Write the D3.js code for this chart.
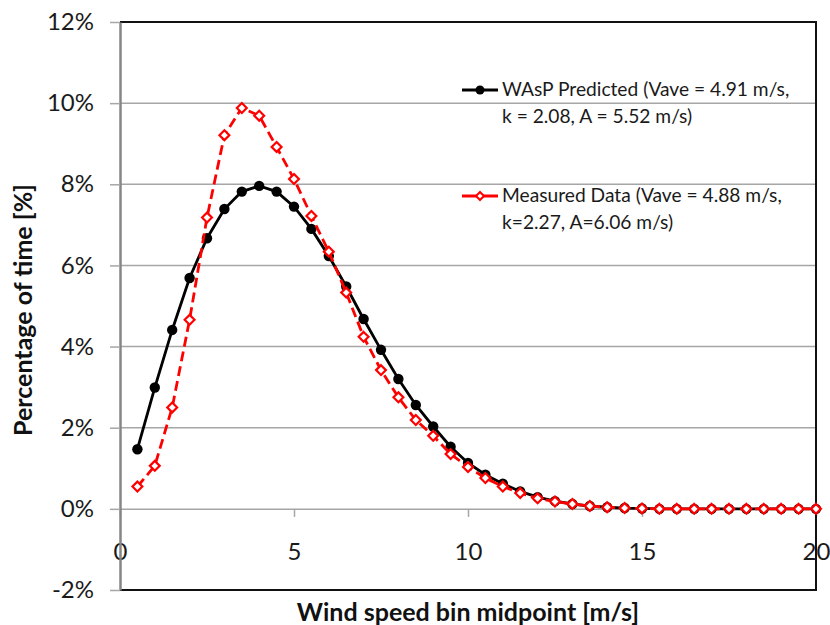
<!DOCTYPE html>
<html>
<head>
<meta charset="utf-8">
<script src="https://cdn.jsdelivr.net/npm/d3@7"></script>
<style>
  body { margin: 0; background: #fff; }
  svg { display: block; font-family: Lato, "Open Sans", sans-serif; }
</style>
</head>
<body>
<div id="chart"></div>
<script>
// wind speed bin midpoints [m/s]
const speeds = [0.5, 1, 1.5, 2, 2.5, 3, 3.5, 4, 4.5, 5, 5.5, 6, 6.5, 7, 7.5, 8, 8.5, 9, 9.5, 10,
  10.5, 11, 11.5, 12, 12.5, 13, 13.5, 14, 14.5, 15, 15.5, 16, 16.5, 17, 17.5, 18, 18.5, 19, 19.5, 20];
// WAsP predicted [%]
const wasp = [1.47, 2.99, 4.41, 5.69, 6.67, 7.39, 7.82, 7.96, 7.82, 7.45, 6.90, 6.23, 5.48, 4.68, 3.92, 3.20,
  2.56, 2.03, 1.53, 1.13, 0.84, 0.62, 0.43, 0.29, 0.19, 0.12, 0.07, 0.04, 0.02, 0.01, 0, 0, 0, 0, 0, 0, 0, 0, 0, 0];
// measured data [%]
const measured = [0.55, 1.06, 2.50, 4.66, 7.18, 9.21, 9.88, 9.69, 8.92, 8.13, 7.22, 6.34, 5.33, 4.24, 3.42, 2.75,
  2.19, 1.80, 1.35, 1.03, 0.76, 0.55, 0.39, 0.26, 0.18, 0.12, 0.07, 0.04, 0.02, 0.01, 0, 0, 0, 0, 0, 0, 0, 0, 0, 0];

const yTicks = [-2, 0, 2, 4, 6, 8, 10, 12];
const xTicks = [0, 5, 10, 15, 20];
const legendLines = [
  ["WAsP Predicted (Vave = 4.91 m/s,", "k = 2.08, A = 5.52 m/s)"],
  ["Measured Data (Vave = 4.88 m/s,", "k=2.27, A=6.06 m/s)"]
];

const W = 830, H = 625;
const margin = { top: 22, right: 14, bottom: 35, left: 120 };

const svg = d3.select("#chart").append("svg")
  .attr("width", W)
  .attr("height", H);

const x = d3.scaleLinear().domain([0, 20]).range([margin.left, W - margin.right]);
const y = d3.scaleLinear().domain([-2, 12]).range([H - margin.bottom, margin.top]);

// grid lines
svg.append("g")
  .selectAll("line")
  .data(yTicks.filter(d => d > 0 && d < 12))
  .enter().append("line")
  .attr("x1", x(0)).attr("x2", x(20))
  .attr("y1", d => y(d)).attr("y2", d => y(d))
  .attr("stroke", "#a6a6a6")
  .attr("stroke-width", 1.5);

// horizontal axis crossing at 0%
const xAxis = svg.append("g")
  .attr("transform", "translate(0," + y(0) + ")")
  .call(d3.axisBottom(x).tickValues(xTicks).tickSize(8).tickSizeOuter(0));
xAxis.select(".domain").attr("stroke", "#a6a6a6").attr("stroke-width", 1.5);
xAxis.selectAll(".tick line").attr("stroke", "#a6a6a6").attr("stroke-width", 1.5);
xAxis.selectAll(".tick text")
  .attr("y", 51).attr("dy", 0)
  .attr("font-size", 24)
  .attr("font-family", "Lato")
  .attr("fill", "#1a1a1a");

// frame: top, right, bottom
svg.append("path")
  .attr("d", "M" + x(0) + "," + y(12) + "H" + x(20) + "V" + y(-2) + "H" + x(0))
  .attr("fill", "none")
  .attr("stroke", "#111")
  .attr("stroke-width", 2);

// vertical axis
const yAxis = svg.append("g")
  .attr("transform", "translate(" + x(0) + ",0)")
  .call(d3.axisLeft(y).tickValues(yTicks).tickSize(10).tickSizeOuter(0).tickPadding(16).tickFormat(d => d + "%"));
yAxis.select(".domain").attr("stroke", "#868686").attr("stroke-width", 2.5);
yAxis.selectAll(".tick line").attr("stroke", "#a6a6a6").attr("stroke-width", 1.5);
yAxis.selectAll(".tick text")
  .attr("font-size", 24)
  .attr("font-family", "Lato")
  .attr("fill", "#1a1a1a");

// axis titles
svg.append("text")
  .attr("x", (x(0) + x(20)) / 2)
  .attr("y", 621)
  .attr("text-anchor", "middle")
  .attr("font-size", 25)
  .attr("font-weight", "bold")
  .attr("fill", "#111")
  .text("Wind speed bin midpoint [m/s]");

svg.append("text")
  .attr("transform", "translate(32," + 310 + ") rotate(-90)")
  .attr("text-anchor", "middle")
  .attr("font-size", 25)
  .attr("font-weight", "bold")
  .attr("fill", "#111")
  .text("Percentage of time [%]");

// series
const line = d3.line()
  .x((d, i) => x(speeds[i]))
  .y(d => y(d));

svg.append("path")
  .datum(wasp)
  .attr("d", line)
  .attr("fill", "none")
  .attr("stroke", "#000")
  .attr("stroke-width", 2.8);

svg.append("g")
  .selectAll("circle")
  .data(wasp)
  .enter().append("circle")
  .attr("cx", (d, i) => x(speeds[i]))
  .attr("cy", d => y(d))
  .attr("r", 5.2)
  .attr("fill", "#000");

svg.append("path")
  .datum(measured)
  .attr("d", line)
  .attr("fill", "none")
  .attr("stroke", "#ff0000")
  .attr("stroke-width", 2.8)
  .attr("stroke-dasharray", "10,5");

const diamond = d3.symbol().type(d3.symbolDiamond2).size(62);
svg.append("g")
  .selectAll("path")
  .data(measured)
  .enter().append("path")
  .attr("d", diamond)
  .attr("transform", (d, i) => "translate(" + x(speeds[i]) + "," + y(d) + ")")
  .attr("fill", "#fff")
  .attr("stroke", "#ff0000")
  .attr("stroke-width", 2.2);

// legend
const legend = svg.append("g");
const legendY = [90, 196];
const legendColors = ["#000", "#ff0000"];

legendLines.forEach((lines, k) => {
  const g = legend.append("g").attr("transform", "translate(0," + legendY[k] + ")");
  g.append("line")
    .attr("x1", 462).attr("x2", 498)
    .attr("stroke", legendColors[k])
    .attr("stroke-width", 2.8);
  if (k === 0) {
    g.append("circle").attr("cx", 480).attr("r", 4.5).attr("fill", "#000");
  } else {
    g.append("path")
      .attr("d", d3.symbol().type(d3.symbolDiamond2).size(40))
      .attr("transform", "translate(480,0)")
      .attr("fill", "#fff")
      .attr("stroke", "#ff0000")
      .attr("stroke-width", 2);
  }
  g.selectAll("text")
    .data(lines)
    .enter().append("text")
    .attr("x", 502)
    .attr("y", (d, i) => 6 + i * 27)
    .attr("font-size", 19.2)
    .attr("fill", "#1a1a1a")
    .text(d => d);
});
</script>
</body>
</html>
